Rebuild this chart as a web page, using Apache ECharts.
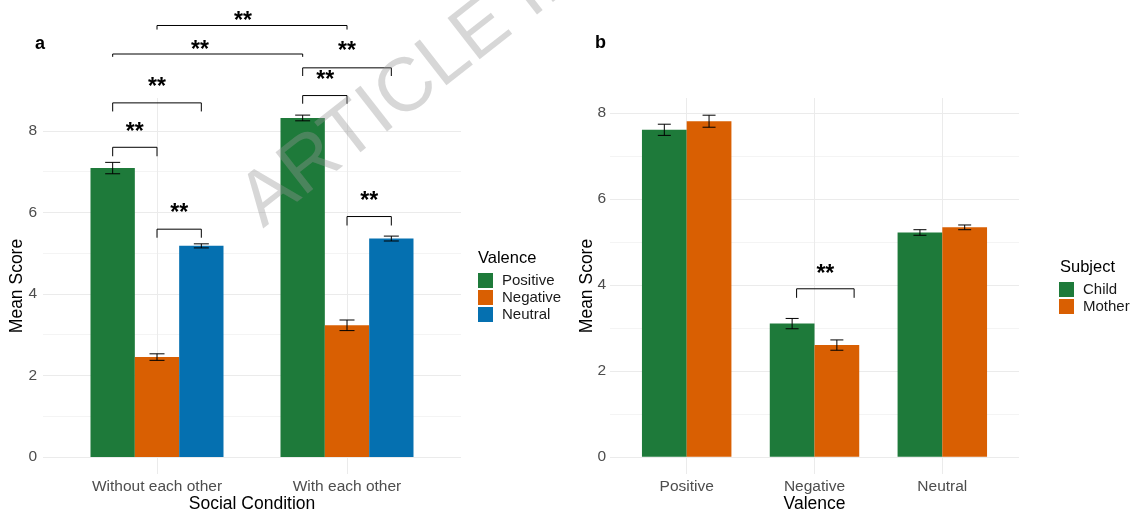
<!DOCTYPE html>
<html>
<head>
<meta charset="utf-8">
<script src="https://cdn.jsdelivr.net/npm/echarts@6/dist/echarts.min.js"></script>
<style>
  html, body { margin: 0; padding: 0; background: #ffffff; }
  #chart { width: 1131px; height: 511px; }
</style>
</head>
<body>
<div id="chart"></div>
<script>
// ---- Panel a: mean score by social condition and valence ----
const conditions = ['Without each other', 'With each other'];
const valences = ['Positive', 'Negative', 'Neutral'];
const positiveMean = [7.09, 8.32];
const negativeMean = [2.45, 3.23];
const neutralMean = [5.18, 5.36];
const positiveSE = [0.14, 0.07];
const negativeSE = [0.08, 0.13];
const neutralSE = [0.05, 0.06];

// ---- Panel b: mean score by valence and subject ----
const subjects = ['Child', 'Mother'];
const childMean = [7.61, 3.10, 5.22];
const motherMean = [7.81, 2.60, 5.34];
const childSE = [0.13, 0.12, 0.065];
const motherSE = [0.14, 0.12, 0.055];

// y-axis ticks (major labelled, minor grid only)
const yTicks = [0, 2, 4, 6, 8];
const yMinorTicks = [1, 3, 5, 7];

// significance brackets: [x start, x end, bar level, tick end, label x, label y]
const bracketsA = [
  [1.0, 2.0, 10.59, 10.49, 1.453, 10.81],
  [0.7667, 1.7667, 9.89, 9.82, 1.226, 10.10],
  [1.7667, 2.2333, 9.55, 9.35, 2.0, 10.06],
  [1.7667, 2.0, 8.87, 8.67, 1.885, 9.37],
  [0.7667, 1.2333, 8.69, 8.48, 1.0, 9.18],
  [0.7667, 1.0, 7.60, 7.38, 0.883, 8.09],
  [1.0, 1.2333, 5.59, 5.38, 1.117, 6.09],
  [2.0, 2.2333, 5.90, 5.68, 2.117, 6.40]
];
const bracketsB = [
  [1.86, 2.31, 3.91, 3.70, 2.085, 4.36]
];
const sigLabel = '**';

// ---- styling ----
const FONT = '"Liberation Sans", Arial, Helvetica, sans-serif';
const GREEN = '#1E7A3A';
const ORANGE = '#D95F02';
const BLUE = '#0570B0';
const GRID_MAJOR = '#EBEBEB';
const GRID_MINOR = '#F4F4F4';
const TICK_COLOR = '#4D4D4D';

// dodge offsets (in category units) for the grouped bars
const dodgeA = [-0.7 / 3, 0, 0.7 / 3];
const dodgeB = [-0.175, 0.175];

function errorRows(means, ses, offset) {
  return means.map((m, i) => [i + 1 + offset, m - ses[i], m + ses[i]]);
}

function errorRender(capHalf) {
  return function (params, api) {
    const x = api.value(0);
    const lo = api.coord([x, api.value(1)]);
    const hi = api.coord([x, api.value(2)]);
    const style = { stroke: '#000000', lineWidth: 1 };
    return {
      type: 'group',
      children: [
        { type: 'line', shape: { x1: hi[0], y1: hi[1], x2: lo[0], y2: lo[1] }, style: style },
        { type: 'line', shape: { x1: hi[0] - capHalf, y1: hi[1], x2: hi[0] + capHalf, y2: hi[1] }, style: style },
        { type: 'line', shape: { x1: lo[0] - capHalf, y1: lo[1], x2: lo[0] + capHalf, y2: lo[1] }, style: style }
      ]
    };
  };
}

function bracketRender(params, api) {
  const x1 = api.value(0), x2 = api.value(1), y = api.value(2), yEnd = api.value(3);
  const p1 = api.coord([x1, yEnd]);
  const p2 = api.coord([x1, y]);
  const p3 = api.coord([x2, y]);
  const p4 = api.coord([x2, yEnd]);
  const t = api.coord([api.value(4), api.value(5)]);
  return {
    type: 'group',
    children: [
      { type: 'polyline', shape: { points: [p1, p2, p3, p4] },
        style: { stroke: '#000000', lineWidth: 1, fill: null } },
      { type: 'text', x: t[0], y: t[1] + 5,
        style: { text: sigLabel, align: 'center', verticalAlign: 'middle',
                 fontSize: 23, fontWeight: 'bold', fontFamily: FONT, fill: '#000000' } }
    ]
  };
}

function xAxisFor(gridIndex, min, max, names, title, labelMargin, nameGap) {
  const ticks = names.map((_, i) => i + 1);
  return {
    type: 'value', gridIndex: gridIndex, min: min, max: max,
    axisLine: { show: false, onZero: false },
    axisTick: { show: false, customValues: ticks },
    axisLabel: {
      customValues: ticks, margin: labelMargin,
      formatter: v => names[Math.round(v) - 1],
      color: TICK_COLOR, fontSize: 15.5, fontFamily: FONT
    },
    splitLine: { show: true, lineStyle: { color: GRID_MAJOR, width: 1 } },
    name: title, nameLocation: 'middle', nameGap: nameGap, nameMoveOverlap: false,
    nameTextStyle: { color: '#000000', fontSize: 17.5, fontFamily: FONT }
  };
}

function yAxisFor(gridIndex, min, max, labelMargin, nameGap) {
  return {
    type: 'value', gridIndex: gridIndex, min: min, max: max, position: 'left',
    axisLine: { show: false, onZero: false },
    axisTick: { show: false, customValues: yTicks },
    axisLabel: { customValues: yTicks, margin: labelMargin, color: TICK_COLOR, fontSize: 15.5, fontFamily: FONT },
    splitLine: { show: true, lineStyle: { color: GRID_MAJOR, width: 1 } },
    name: 'Mean Score', nameLocation: 'middle', nameRotate: 90, nameGap: nameGap, nameMoveOverlap: false,
    nameTextStyle: { color: '#000000', fontSize: 17.5, fontFamily: FONT }
  };
}

function yMinorAxisFor(gridIndex, min, max) {
  return {
    type: 'value', gridIndex: gridIndex, min: min, max: max, position: 'left',
    axisLine: { show: false, onZero: false },
    axisTick: { show: false, customValues: yMinorTicks },
    axisLabel: { show: false },
    splitLine: { show: true, lineStyle: { color: GRID_MINOR, width: 1 } }
  };
}

const chart = echarts.init(document.getElementById('chart'), null, { renderer: 'canvas' });

const valenceMeans = [positiveMean, negativeMean, neutralMean];
const valenceSEs = [positiveSE, negativeSE, neutralSE];
const valenceColors = [GREEN, ORANGE, BLUE];
const subjectMeans = [childMean, motherMean];
const subjectSEs = [childSE, motherSE];
const subjectColors = [GREEN, ORANGE];

const series = [];

valences.forEach((name, k) => {
  series.push({
    name: name, type: 'bar', xAxisIndex: 0, yAxisIndex: 0,
    barWidth: (70 / 3).toFixed(3) + '%', barGap: '0%',
    itemStyle: { color: valenceColors[k] },
    data: valenceMeans[k].map((v, i) => [i + 1, v]),
    z: 2, silent: true
  });
});
valences.forEach((name, k) => {
  series.push({
    type: 'custom', xAxisIndex: 0, yAxisIndex: 0, z: 4, silent: true,
    encode: { x: 0, y: [1, 2] },
    renderItem: errorRender(7.5),
    data: errorRows(valenceMeans[k], valenceSEs[k], dodgeA[k])
  });
});
series.push({
  type: 'custom', xAxisIndex: 0, yAxisIndex: 0, z: 4, silent: true, clip: false,
  encode: { x: [0, 1], y: [2, 3] },
  renderItem: bracketRender, data: bracketsA
});

subjects.forEach((name, k) => {
  series.push({
    name: name, type: 'bar', xAxisIndex: 1, yAxisIndex: 2,
    barWidth: '35%', barGap: '0%',
    itemStyle: { color: subjectColors[k] },
    data: subjectMeans[k].map((v, i) => [i + 1, v]),
    z: 2, silent: true
  });
});
subjects.forEach((name, k) => {
  series.push({
    type: 'custom', xAxisIndex: 1, yAxisIndex: 2, z: 4, silent: true,
    encode: { x: 0, y: [1, 2] },
    renderItem: errorRender(6.5),
    data: errorRows(subjectMeans[k], subjectSEs[k], dodgeB[k])
  });
});
series.push({
  type: 'custom', xAxisIndex: 1, yAxisIndex: 2, z: 4, silent: true, clip: false,
  encode: { x: [0, 1], y: [2, 3] },
  renderItem: bracketRender, data: bracketsB
});

const legendBase = {
  orient: 'vertical', icon: 'rect', itemWidth: 15, itemHeight: 15, itemGap: 2,
  padding: 0, selectedMode: false,
  textStyle: { fontSize: 15, color: '#1A1A1A', fontFamily: FONT, padding: [0, 0, 0, 4] }
};

chart.setOption({
  animation: false,
  backgroundColor: '#ffffff',
  grid: [
    { left: 43, top: 98, width: 418, height: 376, outerBoundsMode: 'none' },
    { left: 610, top: 98, width: 409, height: 376, outerBoundsMode: 'none' }
  ],
  xAxis: [
    xAxisFor(0, 0.4, 2.6, conditions, 'Social Condition', 5, 21),
    xAxisFor(1, 0.4, 3.6, valences, 'Valence', 5, 21)
  ],
  yAxis: [
    yAxisFor(0, -0.42, 8.81, 6, 17),
    yMinorAxisFor(0, -0.42, 8.81),
    yAxisFor(1, -0.40, 8.35, 4, 14),
    yMinorAxisFor(1, -0.40, 8.35)
  ],
  legend: [
    Object.assign({}, legendBase, { data: valences, left: 478, top: 273 }),
    Object.assign({}, legendBase, { data: subjects, left: 1059, top: 282 })
  ],
  graphic: [
    { type: 'text', left: 35, top: 35, style: { text: 'a', fontSize: 18, fontWeight: 'bold', fontFamily: FONT, fill: '#000' } },
    { type: 'text', left: 595, top: 34, style: { text: 'b', fontSize: 18, fontWeight: 'bold', fontFamily: FONT, fill: '#000' } },
    { type: 'text', left: 478, top: 250, style: { text: 'Valence', fontSize: 16.5, fontFamily: FONT, fill: '#000' } },
    { type: 'text', left: 1060, top: 259, style: { text: 'Subject', fontSize: 16.5, fontFamily: FONT, fill: '#000' } },
    { type: 'text', x: 250, y: 212, rotation: 38 * Math.PI / 180, z: 100, silent: true,
      style: { text: 'ARTICLE IN PRESS', fontSize: 76, fontFamily: FONT,
               fill: 'rgba(150,150,150,0.38)', align: 'left', verticalAlign: 'middle' } }
  ],
  series: series
});
</script>
</body>
</html>
